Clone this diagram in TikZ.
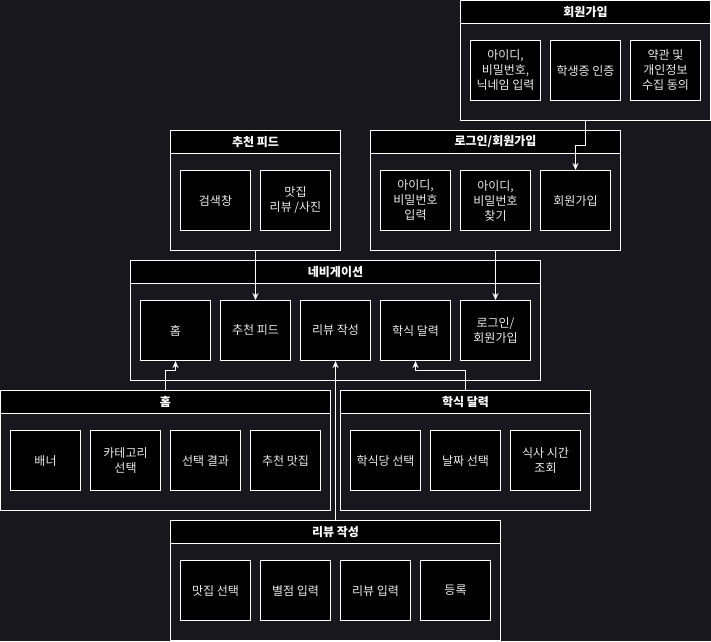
\documentclass[tikz,border=0pt]{standalone}
\usepackage{fontspec}
\setmainfont{Noto Sans CJK KR}
\usetikzlibrary{arrows.meta, positioning}
\definecolor{canvas}{RGB}{24,23,30}
\tikzset{
lane/.style = {rectangle, draw = white, fill = none, minimum height = 120, inner sep = 0pt, outer sep = 0pt, anchor = north west},
lane title/.style = {rectangle, draw = white, fill = black, text = white, minimum height = 23, inner sep = 0pt, outer sep = 0pt, anchor = north west, font = \fontsize{12}{15}\selectfont\bfseries},
item/.style = {rectangle, draw = white, fill = black, text = white!92!black, minimum width = 70, minimum height = 60, inner sep = 0pt, align = center, font = \fontsize{12}{15}\selectfont},
link/.style = {draw = white, -{Stealth[length = 7pt, width = 6pt]}}
}

\begin{document}
\begin{tikzpicture}[x = 1pt, y = -1pt, line width = 1pt]
    \path[fill = canvas] (-0.5, -0.5) rectangle (710.5, 640.5);
    \useasboundingbox (-0.5, -0.5) rectangle (710.5, 640.5);
    % sign up
    \node[lane, minimum width = 250] (signup) at (460, 0) {};
    \node[lane title, minimum width = 250] (signup title) at (460, 0) {회원가입};
    \node[item] (su id) at (505, 70) {아이디,\\비밀번호,\\닉네임 입력};
    \node[item] (su card) at (585, 70) {학생증 인증};
    \node[item] (su terms) at (665, 70) {약관 및\\개인정보\\수집 동의};
    % login
    \node[lane, minimum width = 250] (login) at (370, 130) {};
    \node[lane title, minimum width = 250] (login title) at (370, 130) {로그인/회원가입};
    \node[item] (li id) at (415, 200) {아이디,\\비밀번호\\입력};
    \node[item] (li find) at (495, 200) {아이디,\\비밀번호\\찾기};
    \node[item] (li signup) at (575, 200) {회원가입};
    % feed
    \node[lane, minimum width = 170] (feed) at (170, 130) {};
    \node[lane title, minimum width = 170] (feed title) at (170, 130) {추천 피드};
    \node[item] (fd search) at (215, 200) {검색창};
    \node[item] (fd review) at (295, 200) {맛집\\리뷰 /사진};
    % navigation
    \node[lane, minimum width = 410] (nav) at (130, 260) {};
    \node[lane title, minimum width = 410] (nav title) at (130, 260) {네비게이션};
    \node[item] (nv home) at (175, 330) {홈};
    \node[item] (nv feed) at (255, 330) {추천 피드};
    \node[item] (nv review) at (335, 330) {리뷰 작성};
    \node[item] (nv cal) at (415, 330) {학식 달력};
    \node[item] (nv login) at (495, 330) {로그인/\\회원가입};
    % home
    \node[lane, minimum width = 330] (home) at (0, 390) {};
    \node[lane title, minimum width = 330] (home title) at (0, 390) {홈};
    \node[item] (hm banner) at (45, 460) {배너};
    \node[item] (hm cat) at (125, 460) {카테고리\\선택};
    \node[item] (hm result) at (205, 460) {선택 결과};
    \node[item] (hm pick) at (285, 460) {추천 맛집};
    % calendar
    \node[lane, minimum width = 250] (cal) at (340, 390) {};
    \node[lane title, minimum width = 250] (cal title) at (340, 390) {학식 달력};
    \node[item] (cl place) at (385, 460) {학식당 선택};
    \node[item] (cl date) at (465, 460) {날짜 선택};
    \node[item] (cl time) at (545, 460) {식사 시간\\조회};
    % review
    \node[lane, minimum width = 330] (review) at (170, 520) {};
    \node[lane title, minimum width = 330] (review title) at (170, 520) {리뷰 작성};
    \node[item] (rv place) at (215, 590) {맛집 선택};
    \node[item] (rv star) at (295, 590) {별점 입력};
    \node[item] (rv text) at (375, 590) {리뷰 입력};
    \node[item] (rv post) at (455, 590) {등록};
    % links
    \draw[link] (signup.south) -- ++(0, 25) -| (li signup.north);
    \draw[link] (feed.south) -- (nv feed.north);
    \draw[link] (login.south) -- (nv login.north);
    \draw[link] (home.north) -- ++(0, -20) -| (nv home.south);
    \draw[link] (review.north) -- (nv review.south);
    \draw[link] (cal.north) -- ++(0, -20) -| (nv cal.south);
\end{tikzpicture}
\end{document}
